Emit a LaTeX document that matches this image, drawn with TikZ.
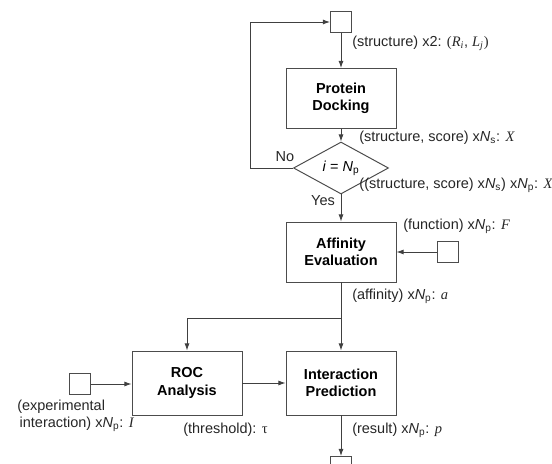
\documentclass[tikz,border=0pt]{standalone}
\usepackage{fontspec}
\setmainfont{Liberation Sans}
\newfontfamily\tms{Liberation Serif}
\usetikzlibrary{arrows.meta,shapes.geometric}

\newcommand{\Nsc}{\textit{N}\textsubscript{s}}
\newcommand{\Npc}{\textit{N}\textsubscript{p}}
\newcommand{\sym}[1]{{\tms\itshape #1}}

\tikzset{
    process/.style={draw=black!70, line width=0.7pt, minimum width=2.75cm, minimum height=1.5cm, align=center, font=\fontsize{10.3}{12.2}\selectfont\bfseries},
    port/.style={draw=black!70, line width=0.7pt, minimum size=0.525cm, inner sep=0pt},
    decision/.style={diamond, draw=black!70, line width=0.7pt, aspect=1.83, minimum width=2.375cm, minimum height=1.3cm, inner sep=0pt},
    flow/.style={draw=black!75, line width=0.6pt, -{Latex[length=5pt,width=3.5pt]}},
    note/.style={anchor=west, inner sep=0pt, text=black!85, align=left}
}

\begin{document}
\begin{tikzpicture}[font=\fontsize{10.3}{12.2}\selectfont]

    \useasboundingbox (0,0) rectangle (13.8,11.575);

    % main chain
    % nodes (steps)
    \node[port] (in) at (8.525,11.025) {};
    \node[process] (dock) at (8.525,9.1125) {Protein\\Docking};
    \node[decision] (test) at (8.525,7.375) {\textit{i} = \Npc};
    \node[process] (aff) at (8.525,5.275) {Affinity\\Evaluation};
    \node[process, minimum height=1.6cm] (roc) at (4.675,2.0) {ROC\\Analysis};
    \node[process, minimum height=1.6cm] (pred) at (8.525,2.0) {Interaction\\Prediction};
    \node[port] (out) at (8.525,-0.1) {};

    % side inputs
    \node[port] (fun) at (11.2,5.275) {};
    \node[port] (exp) at (2.0,1.975) {};

    % corner points
    \coordinate (loop) at (6.25,7.375);
    \coordinate (split) at (8.525,3.625);

    % paths
    \draw[flow] (in) -- (dock); % input -> docking
    \draw[flow] (dock) -- (test); % docking -> test
    \draw[flow] (test.west) -- (loop) |- (in.west); % No -> back to input
    \draw[flow] (test) -- (aff); % Yes -> affinity
    \draw[flow] (fun) -- (aff.east |- fun); % function -> affinity
    \draw[line width=0.6pt, black!75] (aff) -- (split);
    \draw[flow] (split) -- (pred); % affinity -> prediction
    \draw[flow] (split) -| (roc.north); % affinity -> ROC
    \draw[flow] (exp) -- (roc.west |- exp); % experiment -> ROC
    \draw[flow] (roc.east |- pred) -- (pred); % threshold -> prediction
    \draw[flow] (pred) -- (out); % prediction -> result

    % labels
    \node[note] (lin) at (8.8,10.5) {(structure) x2: {\tms(}\sym{R\textsubscript{i}}, \sym{L\textsubscript{j}}{\tms)}};
    \node[note] (ldock) at (8.975,8.125) {(structure, score) x\Nsc: \sym{X}};
    \node[text=black!85] (lno) at (7.125,7.65) {No};
    \node[text=black!85] (lyes) at (8.075,6.55) {Yes};
    \node[note] (ltest) at (8.98,6.95) {((structure, score) x\Nsc) x\Npc: \sym{X}};
    \node[note] (lfun) at (10.075,5.925) {(function) x\Npc: \sym{F}};
    \node[note] (laff) at (8.8,4.175) {(affinity) x\Npc: \sym{a}};
    \node[note] (lexp) at (0.425,1.175) {(experimental\\\,interaction) x\Npc: \sym{I}};
    \node[note] (lroc) at (4.575,0.825) {(threshold): {\tms τ}};
    \node[note] (lpred) at (8.8,0.825) {(result) x\Npc: \sym{p}};

\end{tikzpicture}
\end{document}
